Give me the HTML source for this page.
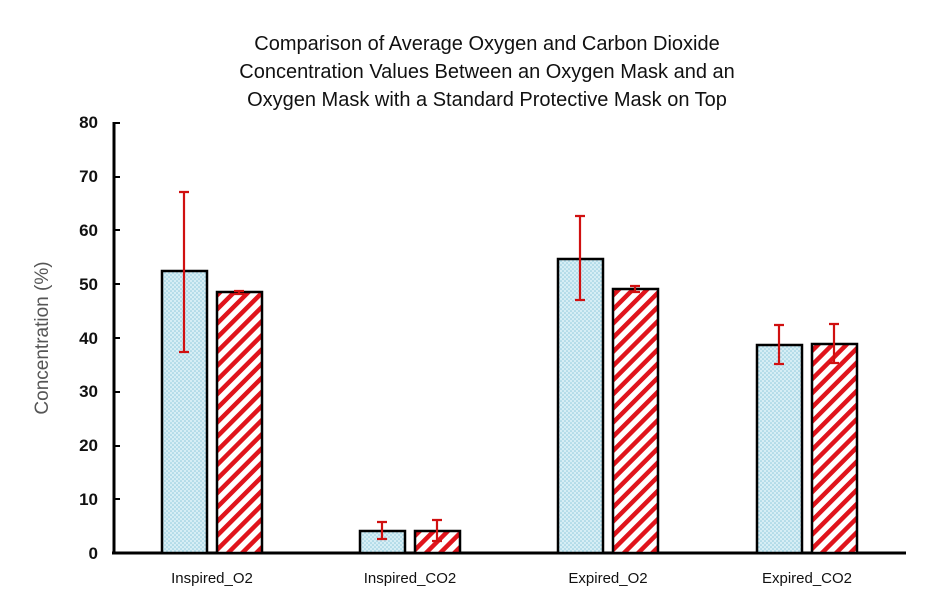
<!DOCTYPE html>
<html><head><meta charset="utf-8"><style>
body{margin:0;background:#fff;width:940px;height:600px;overflow:hidden}
</style></head><body>
<svg width="940" height="600" xmlns="http://www.w3.org/2000/svg" font-family="Liberation Sans, sans-serif">
<defs>
<pattern id="dots" width="4" height="4" patternUnits="userSpaceOnUse">
<rect width="4" height="4" fill="#d6eef5"/><circle cx="1" cy="1" r="0.8" fill="#8ec9dc"/><circle cx="3" cy="3" r="0.8" fill="#8ec9dc"/>
</pattern>
<pattern id="stripes" width="10" height="10" patternUnits="userSpaceOnUse" patternTransform="rotate(45)">
<rect width="10" height="10" fill="#fff"/><rect width="4.5" height="10" fill="#e0141c"/>
</pattern>
</defs>
<g font-size="20" text-anchor="middle" fill="#111">
<text x="487" y="50">Comparison of Average Oxygen and Carbon Dioxide</text>
<text x="487" y="78">Concentration Values Between an Oxygen Mask and an</text>
<text x="487" y="106">Oxygen Mask with a Standard Protective Mask on Top</text>
</g>
<text transform="translate(48,338) rotate(-90)" font-size="19" text-anchor="middle" fill="#555">Concentration (%)</text>
<g font-size="17" text-anchor="end" fill="#111" font-weight="bold">
<text x="98" y="559">0</text><text x="98" y="505">10</text><text x="98" y="451">20</text><text x="98" y="397">30</text>
<text x="98" y="344">40</text><text x="98" y="290">50</text><text x="98" y="236">60</text><text x="98" y="182">70</text><text x="98" y="128">80</text>
</g>
<g stroke="#000" stroke-width="3">
<line x1="114" y1="122" x2="114" y2="554"/>
<line x1="112" y1="553" x2="906" y2="553"/>
<g stroke-width="2">
<line x1="114" y1="123" x2="120" y2="123"/><line x1="114" y1="177" x2="120" y2="177"/><line x1="114" y1="230" x2="120" y2="230"/>
<line x1="114" y1="284" x2="120" y2="284"/><line x1="114" y1="338" x2="120" y2="338"/><line x1="114" y1="392" x2="120" y2="392"/>
<line x1="114" y1="446" x2="120" y2="446"/><line x1="114" y1="499" x2="120" y2="499"/>
</g>
</g>
<g stroke="#000" stroke-width="2.5">
<rect x="162" y="271" width="45" height="282" fill="url(#dots)"/>
<rect x="217" y="292" width="45" height="261" fill="url(#stripes)"/>
<rect x="360" y="531" width="45" height="22" fill="url(#dots)"/>
<rect x="415" y="531" width="45" height="22" fill="url(#stripes)"/>
<rect x="558" y="259" width="45" height="294" fill="url(#dots)"/>
<rect x="613" y="289" width="45" height="264" fill="url(#stripes)"/>
<rect x="757" y="345" width="45" height="208" fill="url(#dots)"/>
<rect x="812" y="344" width="45" height="209" fill="url(#stripes)"/>
</g>
<g stroke="#d01010" stroke-width="2.2" fill="none">
<path d="M184 192V352M179 192h10M179 352h10"/>
<path d="M239 291V294M234 291h10M234 294h10"/>
<path d="M382 522V539M377 522h10M377 539h10"/>
<path d="M437 520V541M432 520h10M432 541h10"/>
<path d="M580 216V300M575 216h10M575 300h10"/>
<path d="M635 286V292M630 286h10M630 292h10"/>
<path d="M779 325V364M774 325h10M774 364h10"/>
<path d="M834 324V363M829 324h10M829 363h10"/>
</g>
<g font-size="15" text-anchor="middle" fill="#111">
<text x="212" y="583">Inspired_O2</text>
<text x="410" y="583">Inspired_CO2</text>
<text x="608" y="583">Expired_O2</text>
<text x="807" y="583">Expired_CO2</text>
</g>
</svg>
</body></html>
